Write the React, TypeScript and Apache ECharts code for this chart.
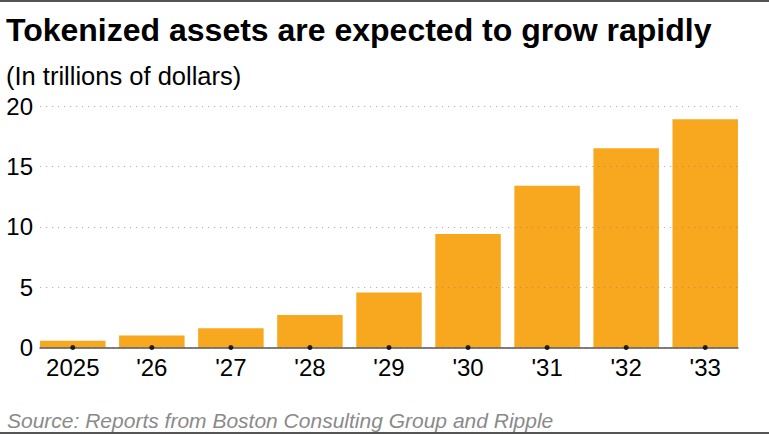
import React, { useEffect, useRef } from "react";
import * as echarts from "echarts";

const categories = ["2025", "'26", "'27", "'28", "'29", "'30", "'31", "'32", "'33"];
const values = [0.55, 1.0, 1.6, 2.7, 4.55, 9.4, 13.4, 16.5, 18.9];
const tickDots = [0, 0, 0, 0, 0, 0, 0, 0, 0];
const yTicks = [0, 5, 10, 15, 20];

const FONT = "'Liberation Sans', Arial, sans-serif";

export default function App() {
  const ref = useRef<HTMLDivElement>(null);
  useEffect(() => {
    const chart = echarts.init(ref.current!, null, { renderer: "svg" });
    const top = 106;
    const bottom = 86.5;
    chart.setOption({
      animation: false,
      backgroundColor: "#ffffff",
      textStyle: { fontFamily: FONT },
      title: [
        {
          text: "Tokenized assets are expected to grow rapidly",
          left: 1,
          top: 9,
          textStyle: { fontSize: 32, fontWeight: "bold", color: "#000", fontFamily: FONT },
        },
        {
          text: "(In trillions of dollars)",
          left: 1,
          top: 58,
          textStyle: { fontSize: 25.5, fontWeight: "normal", color: "#000", fontFamily: FONT },
        },
        {
          text: "Source: Reports from Boston Consulting Group and Ripple",
          left: 2,
          top: 405,
          textStyle: { fontSize: 21, fontWeight: "normal", fontStyle: "italic", color: "#8a8a8a", fontFamily: FONT },
        },
      ],
      graphic: [
        { type: "rect", shape: { x: 0, y: 0, width: 769, height: 2 }, style: { fill: "#555" } },
        { type: "rect", shape: { x: 0, y: 432, width: 769, height: 2 }, style: { fill: "#555" } },
      ],
      grid: [
        { left: 40, right: 31, top, bottom, containLabel: false },
        { left: 33.25, right: 24.25, top, bottom, containLabel: false },
      ],
      xAxis: [
        {
          type: "category",
          gridIndex: 0,
          data: categories,
          axisLine: { show: true, lineStyle: { color: "#555", width: 1.5 } },
          axisTick: { show: false },
          axisLabel: { show: false },
          z: 5,
        },
        {
          type: "category",
          gridIndex: 1,
          data: categories,
          axisLine: { show: false },
          axisTick: { show: false },
          axisLabel: { color: "#000", fontSize: 24, margin: 8, fontFamily: FONT },
        },
      ],
      yAxis: [
        {
          type: "value",
          gridIndex: 0,
          min: 0,
          max: 20,
          interval: 5,
          axisLine: { show: false },
          axisTick: { show: false },
          axisLabel: {
            color: "#000",
            fontSize: 24,
            margin: 7,
            fontFamily: FONT,
            formatter: (v: number) => (yTicks.includes(v) ? String(v) : ""),
          },
          splitLine: {
            show: true,
            lineStyle: { color: "rgba(130,130,130,0.6)", type: [1.2, 4.8], width: 1.2 },
          },
          z: 4,
        },
        {
          type: "value",
          gridIndex: 1,
          min: 0,
          max: 20,
          interval: 5,
          show: false,
          splitLine: { show: false },
        },
      ],
      series: [
        {
          type: "bar",
          xAxisIndex: 1,
          yAxisIndex: 1,
          data: values,
          barWidth: 65.5,
          itemStyle: { color: "#F8A81F" },
          z: 2,
        },
        {
          type: "scatter",
          xAxisIndex: 1,
          yAxisIndex: 1,
          data: tickDots,
          symbol: "circle",
          symbolSize: 5,
          itemStyle: { color: "#000" },
          z: 6,
        },
      ],
    });
    return () => chart.dispose();
  }, []);
  return (
    <div
      ref={ref}
      style={{ position: "absolute", left: 0, top: 0, width: 769, height: 434 }}
    />
  );
}
